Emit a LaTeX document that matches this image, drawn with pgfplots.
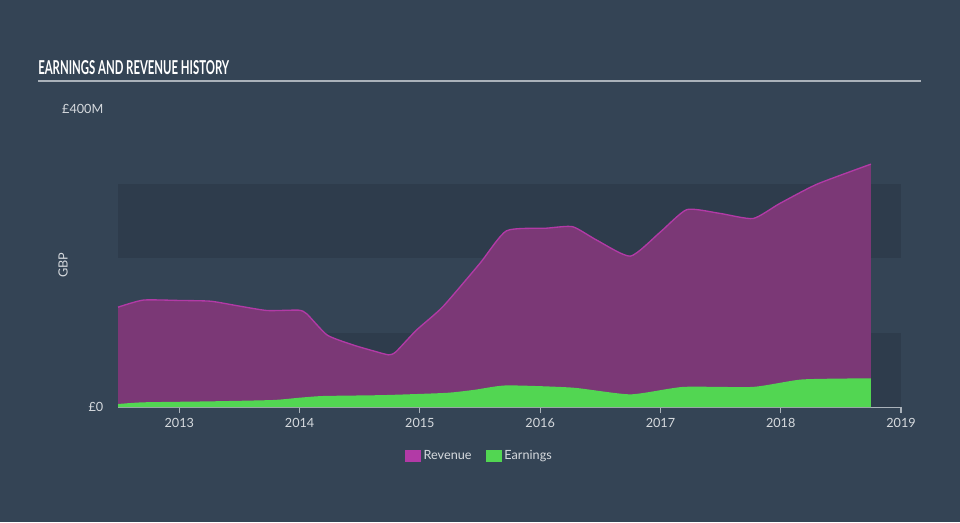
\documentclass[border=0pt]{standalone}
\usepackage{fontspec}
\setmainfont{Lato}
\usepackage{pgfplots}
\pgfplotsset{compat=1.18}
\definecolor{bg}{RGB}{52,68,85}
\definecolor{band}{RGB}{46,60,76}
\definecolor{revfill}{RGB}{123,56,118}
\definecolor{revline}{RGB}{178,58,166}
\definecolor{earn}{RGB}{82,214,82}
\definecolor{txt}{RGB}{214,218,222}
\definecolor{axln}{RGB}{170,178,186}
\begin{document}
\begin{tikzpicture}[x=0.75pt,y=0.75pt]
\fill[bg] (0,0) rectangle (960,522);
\useasboundingbox (0,0) rectangle (960,522);
\node[anchor=south west,inner sep=0pt,text=white] at (38,447) {\resizebox{143.25pt}{10.5pt}{\bfseries EARNINGS AND REVENUE HISTORY}};
\draw[axln,line width=1.5pt] (38,441) -- (921,441);
\node[rotate=90,text=txt,font=\fontsize{9.5}{11}\selectfont] at (63,257) {GBP};
\begin{axis}[
  at={(88.5pt,86.25pt)}, anchor=south west,
  width=587.25pt, height=223.5pt, scale only axis,
  xmin=2012.49, xmax=2019, ymin=0, ymax=400,
  axis x line*=bottom, axis y line*=left,
  x axis line style={draw=axln,line width=0.9pt,-},
  y axis line style={draw=none},
  xtick={2013,2014,2015,2016,2017,2018,2019},
  xticklabels={2013,2014,2015,2016,2017,2018,2019},
  ytick={0,400}, yticklabels={£0,£400M},
  tick align=outside, major tick length=4.5pt,
  xtick style={draw=axln,line width=0.9pt},
  ytick style={draw=none},
  ticklabel style={text=txt,font=\fontsize{9.5}{11}\selectfont},
  yticklabel style={xshift=-3pt},
  xticklabel style={yshift=-0.5pt},
  legend style={at={(0.4623,-0.1644)},anchor=center,draw=none,fill=none,text=txt,font=\fontsize{9.5}{11}\selectfont, legend columns=2, /tikz/every even column/.append style={column sep=9pt}},
  legend cell align=left,
  clip=false,
]
\fill[band] (axis cs:2012.49,0) rectangle (axis cs:2019,100);
\fill[band] (axis cs:2012.49,200) rectangle (axis cs:2019,300);
\addplot[fill=revfill,draw=none,smooth,tension=0.35,forget plot] coordinates {
(2012.49,134) (2012.70,143.5) (2013.0,143) (2013.26,142) (2013.48,136) (2013.73,129.5) (2013.99,130) (2014.06,125)
(2014.23,96.5) (2014.45,83) (2014.62,75) (2014.74,70) (2014.80,74) (2014.97,103) (2015.19,134.5) (2015.5,193)
(2015.72,236.5) (2016.05,240) (2016.27,242) (2016.47,224) (2016.75,202.5) (2017.0,235) (2017.22,265)
(2017.49,260) (2017.77,253) (2017.99,273) (2018.30,299) (2018.75,326)
} \closedcycle;
\addplot[draw=revline,line width=1pt,smooth,tension=0.35,forget plot] coordinates {
(2012.49,134) (2012.70,143.5) (2013.0,143) (2013.26,142) (2013.48,136) (2013.73,129.5) (2013.99,130) (2014.06,125)
(2014.23,96.5) (2014.45,83) (2014.62,75) (2014.74,70) (2014.80,74) (2014.97,103) (2015.19,134.5) (2015.5,193)
(2015.72,236.5) (2016.05,240) (2016.27,242) (2016.47,224) (2016.75,202.5) (2017.0,235) (2017.22,265)
(2017.49,260) (2017.77,253) (2017.99,273) (2018.30,299) (2018.75,326)
};
\addplot[fill=earn,draw=none,smooth,tension=0.35,forget plot] coordinates {
(2012.49,4) (2012.70,6.3) (2013.26,7.6) (2013.78,9.4) (2014.0,12.5) (2014.2,14.8) (2014.7,16) (2015.22,19)
(2015.45,23) (2015.72,29) (2016.27,26) (2016.75,17) (2017.19,27) (2017.77,27) (2018.18,37) (2018.75,38.5)
} \closedcycle;
\addlegendimage{legend image code/.code={\fill[revline] (0pt,-4pt) rectangle (11.25pt,4pt);}}
\addlegendentry{Revenue}
\addlegendimage{legend image code/.code={\fill[earn] (0pt,-4pt) rectangle (11.25pt,4pt);}}
\addlegendentry{Earnings}
\end{axis}
\end{tikzpicture}
\end{document}
